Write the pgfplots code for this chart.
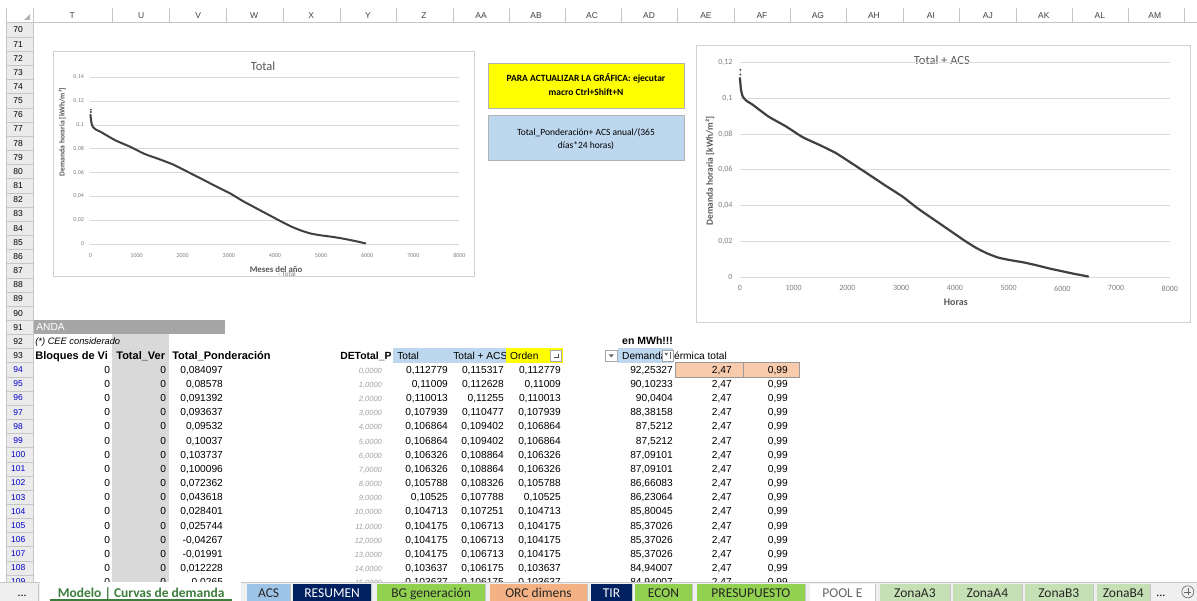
\documentclass[border=0pt]{standalone}
\usepackage{fontspec}
\setmainfont{Liberation Sans}
\newfontfamily\cf{Carlito}
\usepackage{pgfplots}
\pgfplotsset{compat=1.18}
\definecolor{gridg}{HTML}{D9D9D9}
\definecolor{frameg}{HTML}{D0D0D0}
\definecolor{curvec}{HTML}{404040}
\definecolor{tickg}{HTML}{7F7F7F}
\definecolor{titleg}{HTML}{595959}
\definecolor{hdrbg}{HTML}{EBEBEB}
\definecolor{hdrline}{HTML}{C6C6C6}
\definecolor{ltblue}{HTML}{BDD7EE}
\definecolor{yel}{HTML}{FFFF00}
\definecolor{salmon}{HTML}{F8CBAD}
\definecolor{colgray}{HTML}{D9D9D9}
\definecolor{bargray}{HTML}{A6A6A6}
\definecolor{rowblue}{HTML}{0000CC}
\definecolor{itgray}{HTML}{A0A0A0}
\definecolor{navy}{HTML}{002060}
\definecolor{tgreen}{HTML}{92D050}
\definecolor{torange}{HTML}{F4B183}
\definecolor{tblue}{HTML}{9DC3E6}
\definecolor{tlgreen}{HTML}{C5E0B4}
\definecolor{mgreen}{HTML}{3C7D3C}
\definecolor{tabbar}{HTML}{EFEFEF}
\tikzset{cell/.style={anchor=base east,inner sep=0pt,font=\fontsize{10.2}{12}\selectfont},
  lcell/.style={anchor=base west,inner sep=0pt,font=\fontsize{10.2}{12}\selectfont},
  bcell/.style={anchor=base west,inner sep=0pt,font=\bfseries\fontsize{11}{12}\selectfont}}
\newcommand\DR[7]{%
 \pgfmathsetmacro\yb{30+(#1-70)*14.16+3.6}%
 \node[cell] at (110,\yb) {0};
 \node[cell] at (166,\yb) {0};
 \node[cell] at (223,\yb) {#2};
 \node[cell,font=\itshape\fontsize{7.5}{9}\selectfont,text=itgray] at (382,\yb) {#3};
 \node[cell] at (448,\yb) {#4};
 \node[cell] at (504,\yb) {#5};
 \node[cell] at (561,\yb) {#6};
 \node[cell] at (673,\yb) {#7};
 \node[cell] at (732,\yb) {2,47};
 \node[cell] at (788,\yb) {0,99};}
\newcommand\tab[5]{\fill[#3] (#1,584) rectangle (#2,601);
 \draw[hdrline] (#2,584) -- (#2,601);
 \node[text=#4,inner sep=0pt,anchor=base,font=\cf\fontsize{13.5}{14}\selectfont] at ({(#1+#2)/2},598) {#5};}
\begin{document}
\begin{tikzpicture}
\begin{scope}[x=1pt,y=-1pt]
\useasboundingbox (0,0) rectangle (1197,601);
\fill[white] (0,0) rectangle (1197,601);
% ---------- column header row
\draw[hdrline] (6,22.5) -- (1197,22.5);
\draw[hdrline] (6,8) -- (6,584);
\fill[hdrbg] (6.5,23) rectangle (33,582);
\draw[hdrline] (33,8) -- (33,582);
\fill[gray!60] (30,20) -- (24,20) -- (30,14) -- cycle;
\foreach \xb in {112,169,226,283,340,396,453,509,565,621,677,734,790,846,903,959,1016,1072,1128,1184}
  \draw[hdrline] (\xb,8) -- (\xb,22.5);
\foreach \c/\x in {T/72,U/141,V/198,W/254,X/311,Y/368,Z/424,AA/481,AB/536,AC/592,AD/649,AE/706,AF/762,AG/818,AH/874,AI/931,AJ/988,AK/1044,AL/1100,AM/1155}
  \node[font=\fontsize{8.5}{9}\selectfont,text=black!75,inner sep=0pt] at (\x,15.5) {\c};
% ---------- row headers
\foreach \n in {70,...,109} {
  \pgfmathsetmacro\yc{30+(\n-70)*14.16}
  \pgfmathsetmacro\yl{\yc+7.08}
  \draw[hdrline] (6.5,\yl) -- (33,\yl);
  \ifnum\n>93
    \node[font=\fontsize{8.5}{9}\selectfont,text=rowblue,inner sep=0pt] at (18,\yc) {\n};
  \else
    \node[font=\fontsize{8.5}{9}\selectfont,inner sep=0pt] at (18,\yc) {\n};
  \fi
}
% ---------- table
\begin{scope}
\clip (33.5,23) rectangle (1197,582);
\fill[bargray] (33.5,320.3) rectangle (225,334.5);
\node[lcell,text=white] at (36,331) {ANDA};
\fill[colgray] (112,334.5) rectangle (169,590);
\node[anchor=base west,inner sep=0pt,font=\itshape\fontsize{9.3}{11}\selectfont] at (35,345) {(*) CEE considerado};
\node[anchor=base west,inner sep=0pt,font=\bfseries\fontsize{10.5}{12}\selectfont] at (622,345) {en MWh!!!};
% row 93 headers
\fill[ltblue] (393,348.6) rectangle (506,362.7);
\begin{scope}\clip (450,348) rectangle (506,363);
\node[lcell] at (453,359.3) {Total + ACS};\end{scope}
\fill[yel] (506,348.6) rectangle (563,362.7);
\draw[gray!70,fill=white] (550.5,350) rectangle (561.5,361.5);
\draw[black!70,line width=0.5pt] (553.5,357.5) -- (558.5,357.5) (558.5,357.5) -- (558.5,354);
\draw[gray!70,fill=white] (605.5,350) rectangle (617,361.5);
\fill[black!60] (608.5,354.5) -- (614,354.5) -- (611.25,357.5) -- cycle;
\fill[ltblue] (618,348.6) rectangle (673,362.7);
\node[bcell] at (35,359.3) {Bloques de Vi};
\node[bcell] at (116,359.3) {Total\_Ver};
\node[bcell] at (172,359.3) {Total\_Ponderación};
\node[bcell,font=\bfseries\fontsize{10.4}{12}\selectfont] at (340,359.3) {DETotal\_P};
\node[lcell] at (397,359.3) {Total};
\node[lcell] at (510,359.3) {Orden};
\begin{scope}\clip (618,348) rectangle (662,363);
\node[lcell] at (622,359.3) {Demanda};\end{scope}
\draw[gray!70,fill=white] (662,350) rectangle (673,361.5);
\fill[black!60] (664.5,353) -- (668,353) -- (666.25,356) -- cycle;
\draw[black!60,line width=0.5pt] (670,352.5) -- (670,359.5);
\node[lcell] at (674,359.3) {érmica total};
% salmon cells
\draw[gray!80,fill=salmon] (675,362.7) rectangle (743,376.9);
\draw[gray!80,fill=salmon] (743,362.7) rectangle (799,376.9);
\DR{94}{0,084097}{0,0000}{0,112779}{0,115317}{0,112779}{92,25327}
\DR{95}{0,08578}{1,0000}{0,11009}{0,112628}{0,11009}{90,10233}
\DR{96}{0,091392}{2,0000}{0,110013}{0,11255}{0,110013}{90,0404}
\DR{97}{0,093637}{3,0000}{0,107939}{0,110477}{0,107939}{88,38158}
\DR{98}{0,09532}{4,0000}{0,106864}{0,109402}{0,106864}{87,5212}
\DR{99}{0,10037}{5,0000}{0,106864}{0,109402}{0,106864}{87,5212}
\DR{100}{0,103737}{6,0000}{0,106326}{0,108864}{0,106326}{87,09101}
\DR{101}{0,100096}{7,0000}{0,106326}{0,108864}{0,106326}{87,09101}
\DR{102}{0,072362}{8,0000}{0,105788}{0,108326}{0,105788}{86,66083}
\DR{103}{0,043618}{9,0000}{0,10525}{0,107788}{0,10525}{86,23064}
\DR{104}{0,028401}{10,0000}{0,104713}{0,107251}{0,104713}{85,80045}
\DR{105}{0,025744}{11,0000}{0,104175}{0,106713}{0,104175}{85,37026}
\DR{106}{-0,04267}{12,0000}{0,104175}{0,106713}{0,104175}{85,37026}
\DR{107}{-0,01991}{13,0000}{0,104175}{0,106713}{0,104175}{85,37026}
\DR{108}{0,012228}{14,0000}{0,103637}{0,106175}{0,103637}{84,94007}
\DR{109}{0,0265}{15,0000}{0,103637}{0,106175}{0,103637}{84,94007}
\end{scope}
% ---------- boxes
\draw[gray!60,fill=yel] (488,63) rectangle (684,108);
\node[font=\cf\bfseries\fontsize{9.5}{14}\selectfont,align=center,inner sep=0pt] at (586,85) {PARA ACTUALIZAR LA GRÁFICA: ejecutar\\macro Ctrl+Shift+N};
\draw[gray!60,fill=ltblue] (488,115) rectangle (684,160);
\node[font=\cf\fontsize{9.5}{13}\selectfont,align=center,inner sep=0pt] at (586,139) {Total\_Ponderación+ ACS anual/(365\\días*24 horas)};
% ---------- chart frames
\draw[frameg,fill=white] (53,51) rectangle (474,276);
\draw[frameg,fill=white] (696,45) rectangle (1190,322);
\node[font=\cf\fontsize{12.5}{14}\selectfont,text=titleg] at (263,66.5) {Total};
\node[font=\cf\bfseries\fontsize{7.6}{9}\selectfont,text=titleg,rotate=90] at (62,132) {Demanda horaria [kWh/m²]};
\node[font=\cf\bfseries\fontsize{8.8}{10}\selectfont,text=titleg] at (276,269.5) {Meses del año};
\node[font=\cf\fontsize{7}{8}\selectfont,text=tickg] at (287,274.5) {- Total};
\node[font=\cf\fontsize{12.5}{14}\selectfont,text=titleg] at (942,60.5) {Total + ACS};
\node[font=\cf\bfseries\fontsize{9.4}{11}\selectfont,text=titleg,rotate=90] at (710,171) {Demanda horaria [kWh/m²]};
\node[font=\cf\bfseries\fontsize{10}{11}\selectfont,text=titleg] at (956,302.5) {Horas};
\end{scope}
% ---------- left chart
\begin{axis}[at={(90.3pt,-244pt)},anchor=south west,scale only axis,
  width=369pt,height=166.7pt,xmin=0,xmax=8000,ymin=0,ymax=0.14,clip=false,
  axis line style={draw=none},major tick length=0pt,tick style={draw=none},
  ymajorgrids,grid style={gridg,line width=0.7pt},
  xtick={0,1000,2000,3000,4000,5000,6000,7000,8000},
  xticklabels={0,1000,2000,3000,4000,5000,6000,7000,8000},
  ytick={0,0.02,0.04,0.06,0.08,0.1,0.12,0.14},
  yticklabels={0,{0,02},{0,04},{0,06},{0,08},{0,1},{0,12},{0,14}},
  tick label style={font=\cf\fontsize{6}{7}\selectfont,text=tickg},
  xticklabel style={yshift=-6pt},yticklabel style={xshift=-3pt}]
\addplot[curvec,line width=2pt,line join=round,line cap=round,smooth,tension=0.3] coordinates {
(0,0.1085)(19,0.1022)(50,0.0985)(112,0.0962)(236,0.0938)(360,0.0910)(546,0.0869)
(856,0.0817)(1166,0.0757)(1476,0.0714)(1786,0.0668)(2096,0.0608)(2406,0.0547)
(2716,0.0485)(3026,0.0425)(3305,0.0360)(3628,0.0293)(3900,0.0237)(4186,0.0178)
(4400,0.0138)(4600,0.0108)(4800,0.0085)(5000,0.0072)(5271,0.0058)(5500,0.0043)
(5767,0.0022)(5960,0.0005)};
\addplot[only marks,mark=*,mark size=0.7pt,curvec] coordinates {(8,0.1108)(8,0.1128)};
\end{axis}
% ---------- right chart
\begin{axis}[at={(740pt,-277.3pt)},anchor=south west,scale only axis,
  width=430pt,height=215pt,xmin=0,xmax=8000,ymin=0,ymax=0.12,clip=false,
  axis line style={draw=none},major tick length=0pt,tick style={draw=none},
  ymajorgrids,grid style={gridg,line width=0.7pt},
  xtick={0,1000,2000,3000,4000,5000,6000,7000,8000},
  xticklabels={0,1000,2000,3000,4000,5000,6000,7000,8000},
  ytick={0,0.02,0.04,0.06,0.08,0.1,0.12},
  yticklabels={0,{0,02},{0,04},{0,06},{0,08},{0,1},{0,12}},
  tick label style={font=\cf\fontsize{8}{9}\selectfont,text=tickg},
  xticklabel style={yshift=-5pt},yticklabel style={xshift=-4pt}]
\addplot[curvec,line width=2.2pt,line join=round,line cap=round,smooth,tension=0.3] coordinates {
(0,0.1112)(19,0.1047)(50,0.1010)(112,0.0987)(236,0.0963)(360,0.0935)(546,0.0894)
(856,0.0842)(1166,0.0782)(1476,0.0739)(1786,0.0693)(2096,0.0633)(2406,0.0572)
(2716,0.0510)(3026,0.0450)(3305,0.0385)(3628,0.0318)(3900,0.0262)(4186,0.0203)
(4400,0.0163)(4600,0.0133)(4800,0.0110)(5000,0.0097)(5271,0.0083)(5500,0.0068)
(5767,0.0048)(6000,0.0033)(6202,0.0020)(6481,0.0004)};
\addplot[only marks,mark=*,mark size=0.7pt,curvec] coordinates {(8,0.1132)(8,0.1158)};
\end{axis}
% ---------- tab bar
\begin{scope}[x=1pt,y=-1pt]
\fill[tabbar] (0,582) rectangle (1197,601);
\draw[hdrline] (0,582.5) -- (1197,582.5);
\node[font=\cf\fontsize{12}{13}\selectfont,inner sep=0pt,anchor=base] at (22,597) {...};
\draw[hdrline] (38,584) -- (38,601);
\fill[white] (40,582) rectangle (241,601);
\node[text=mgreen,inner sep=0pt,anchor=base,font=\cf\bfseries\fontsize{13.5}{14}\selectfont] at (141,598) {Modelo | Curvas de demanda};
\draw[mgreen,line width=1.5pt] (50,600) -- (232,600);
\tab{247}{290}{tblue}{black!85}{ACS}
\tab{293}{371}{navy}{white}{RESUMEN}
\tab{377}{485}{tgreen}{black!85}{BG generación}
\tab{490}{587}{torange}{black!85}{ORC dimens}
\tab{591}{632}{navy}{white}{TIR}
\tab{635}{692}{tgreen}{black!85}{ECON}
\tab{697}{805}{tgreen}{black!85}{PRESUPUESTO}
\tab{810}{875}{white}{black!60}{POOL E}
\tab{880}{950}{tlgreen}{black!85}{ZonaA3}
\tab{953}{1022}{tlgreen}{black!85}{ZonaA4}
\tab{1025}{1093}{tlgreen}{black!85}{ZonaB3}
\tab{1097}{1150}{tlgreen}{black!85}{ZonaB4}
\node[font=\cf\fontsize{12}{13}\selectfont,inner sep=0pt,anchor=base] at (1161,597) {...};
\draw[black!60,line width=0.6pt] (1188,592) circle (6);
\draw[black!60,line width=0.6pt] (1184.5,592) -- (1191.5,592) (1188,588.5) -- (1188,595.5);
\end{scope}
\end{tikzpicture}
\end{document}
